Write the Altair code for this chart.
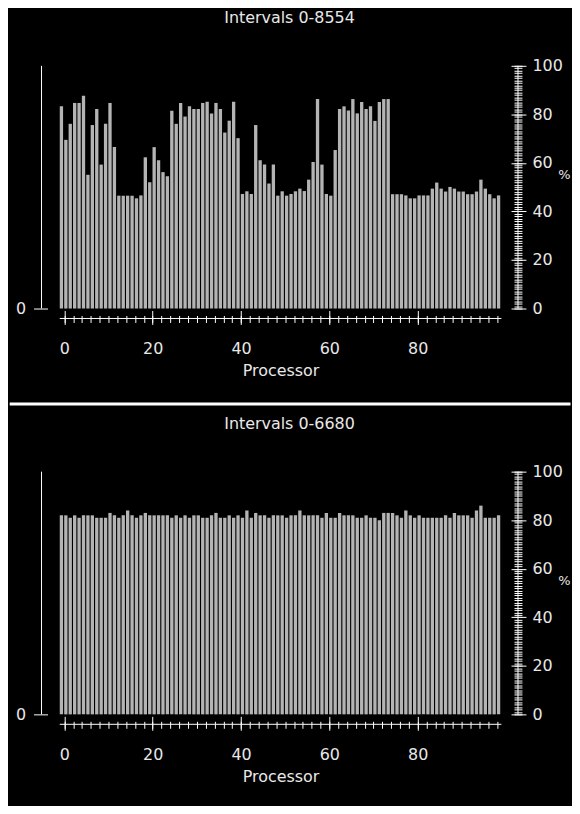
import altair as alt
import pandas as pd

processors = list(range(100))
titles = ["Intervals 0-8554", "Intervals 0-6680"]

busy_top = [83.3, 69.5, 76.1, 84.7, 84.7, 87.7, 55.1, 75.6, 82.2, 59.3,
            76.1, 84.7, 66.5, 46.5, 46.5, 46.5, 46.5, 45.4, 46.6, 62.3,
            52.0, 66.5, 61.1, 56.2, 54.5, 81.5, 76.1, 84.7, 79.1, 83.3,
            82.2, 82.2, 84.7, 85.2, 80.4, 84.7, 82.2, 72.5, 77.4, 85.2,
            70.2, 47.2, 48.3, 47.2, 75.6, 61.1, 59.3, 51.5, 59.3, 46.5,
            48.3, 46.5, 47.2, 48.3, 49.4, 48.4, 53.1, 60.4, 86.3, 59.3,
            47.2, 46.5, 65.3, 82.2, 83.3, 81.6, 86.3, 80.4, 85.1, 82.2,
            83.3, 77.3, 85.1, 86.3, 86.3, 47.1, 47.1, 47.1, 46.6, 45.4,
            45.4, 46.6, 46.6, 46.6, 49.4, 51.9, 49.4, 48.2, 50.1, 49.4,
            48.2, 48.2, 47.1, 47.1, 48.2, 53.1, 49.4, 47.1, 45.4, 46.6]

busy_bottom = [82, 82, 81, 82, 81, 82, 82, 82, 81, 81,
               81, 83, 82, 81, 82, 84, 82, 81, 82, 83,
               82, 82, 82, 82, 82, 81, 82, 81, 82, 81,
               82, 82, 81, 81, 82, 83, 81, 81, 82, 81,
               82, 81, 84, 81, 83, 82, 82, 81, 82, 82,
               82, 81, 82, 82, 84, 82, 82, 82, 82, 81,
               83, 81, 81, 83, 82, 82, 82, 81, 81, 82,
               81, 81, 80, 83, 83, 83, 82, 81, 84, 82,
               81, 82, 81, 81, 81, 81, 81, 82, 81, 83,
               82, 82, 82, 81, 84, 86, 81, 81, 81, 82]

x_major = [0, 20, 40, 60, 80]
x_minor = list(range(0, 100, 2))
y_major = [0, 20, 40, 60, 80, 100]
y_minor = list(range(0, 101))

W, H = 444, 244
FONT = "DejaVu Sans"
WHITE = "#ffffff"
TEXT = "#e8e8e8"
BAR = "#b4b4b4"


def panel(values, title, top):
    df = pd.DataFrame({"processor": processors, "pct": values})
    base = alt.Chart(df).transform_calculate(
        x0="datum.processor - 1.05", x1="datum.processor - 0.3"
    )
    xs = alt.Scale(domain=[-1.06, 98.96], nice=False, zero=False)
    ys = alt.Scale(domain=[0, 100], nice=False)

    bars = base.mark_bar(color=BAR).encode(
        x=alt.X("x0:Q", scale=xs, axis=alt.Axis(
            orient="bottom", values=x_major, offset=2, tickSize=14,
            domain=False, labelPadding=16, labelFlush=False,
            title="Processor", titleY=65, titleBaseline="alphabetic")),
        x2="x1:Q",
        y=alt.Y("pct:Q", scale=ys, axis=alt.Axis(
            orient="left", values=[0], offset=12.3, tickSize=14,
            domain=False, labelPadding=8, labelFlush=False, title=None)),
        y2=alt.datum(0),
    )
    minor = base.mark_bar(opacity=0).encode(
        x=alt.X("x0:Q", scale=xs, axis=alt.Axis(
            orient="bottom", values=x_minor, offset=7, tickSize=7,
            domain=False, labels=False, title=None)),
        x2="x1:Q",
        y=alt.Y("pct:Q", scale=ys, axis=alt.Axis(
            orient="right", values=y_major, offset=9.7, tickSize=15,
            domain=False, labelPadding=6, labelFlush=False,
            title="%", titleAngle=0, titleX=47, titleY=109,
            titleAlign="left", titleBaseline="middle", titleFontSize=13)),
        y2=alt.datum(0),
    )
    minor_y = base.mark_bar(opacity=0).encode(
        x=alt.X("x0:Q", scale=xs, axis=None),
        x2="x1:Q",
        y=alt.Y("pct:Q", scale=ys, axis=alt.Axis(
            orient="right", values=y_minor, offset=12.7, tickSize=8,
            domain=False, labels=False, title=None)),
        y2=alt.datum(0),
    )
    one = alt.Chart(pd.DataFrame({"k": [0]}))
    left_line = one.mark_rule(color=WHITE).encode(
        x=alt.value(-18.3), y=alt.value(0), y2=alt.value(H))
    bottom_line = one.mark_rule(color=WHITE).encode(
        x=alt.value(0), x2=alt.value(W), y=alt.value(H + 10))
    right_line = one.mark_rule(color=WHITE).encode(
        x=alt.value(W + 16.7), y=alt.value(0), y2=alt.value(H))
    layers = [bars, minor, minor_y, left_line, bottom_line, right_line]
    if top:
        sep = one.mark_rule(color=WHITE, strokeWidth=3).encode(
            x=alt.value(-50.3), x2=alt.value(513.5), y=alt.value(340))
        layers.append(sep)
    else:
        filler = one.mark_rule(color="#000000").encode(
            x=alt.value(0), x2=alt.value(10), y=alt.value(333))
        layers.append(filler)
    return alt.layer(*layers).resolve_axis(x="independent", y="independent").properties(
        width=W, height=H,
        title=alt.TitleParams(title, font=FONT, fontSize=16, fontWeight="normal",
                              color=TEXT, anchor="middle", frame="group", dx=9,
                              offset=19, baseline="alphabetic"),
    )


chart = alt.vconcat(panel(busy_top, titles[0], True),
                    panel(busy_bottom, titles[1], False),
                    spacing=10).properties(
    background="#000000",
    padding={"left": 0, "top": 0, "right": 0, "bottom": 0},
).configure_view(stroke=None).configure_axis(
    grid=False, labelFont=FONT, labelFontSize=16, labelColor=TEXT,
    tickColor=WHITE, domainColor=WHITE, titleFont=FONT, titleFontSize=16,
    titleColor=TEXT, titleFontWeight="normal",
)

chart.save("out.html", embed_options={"renderer": "svg", "actions": False})
